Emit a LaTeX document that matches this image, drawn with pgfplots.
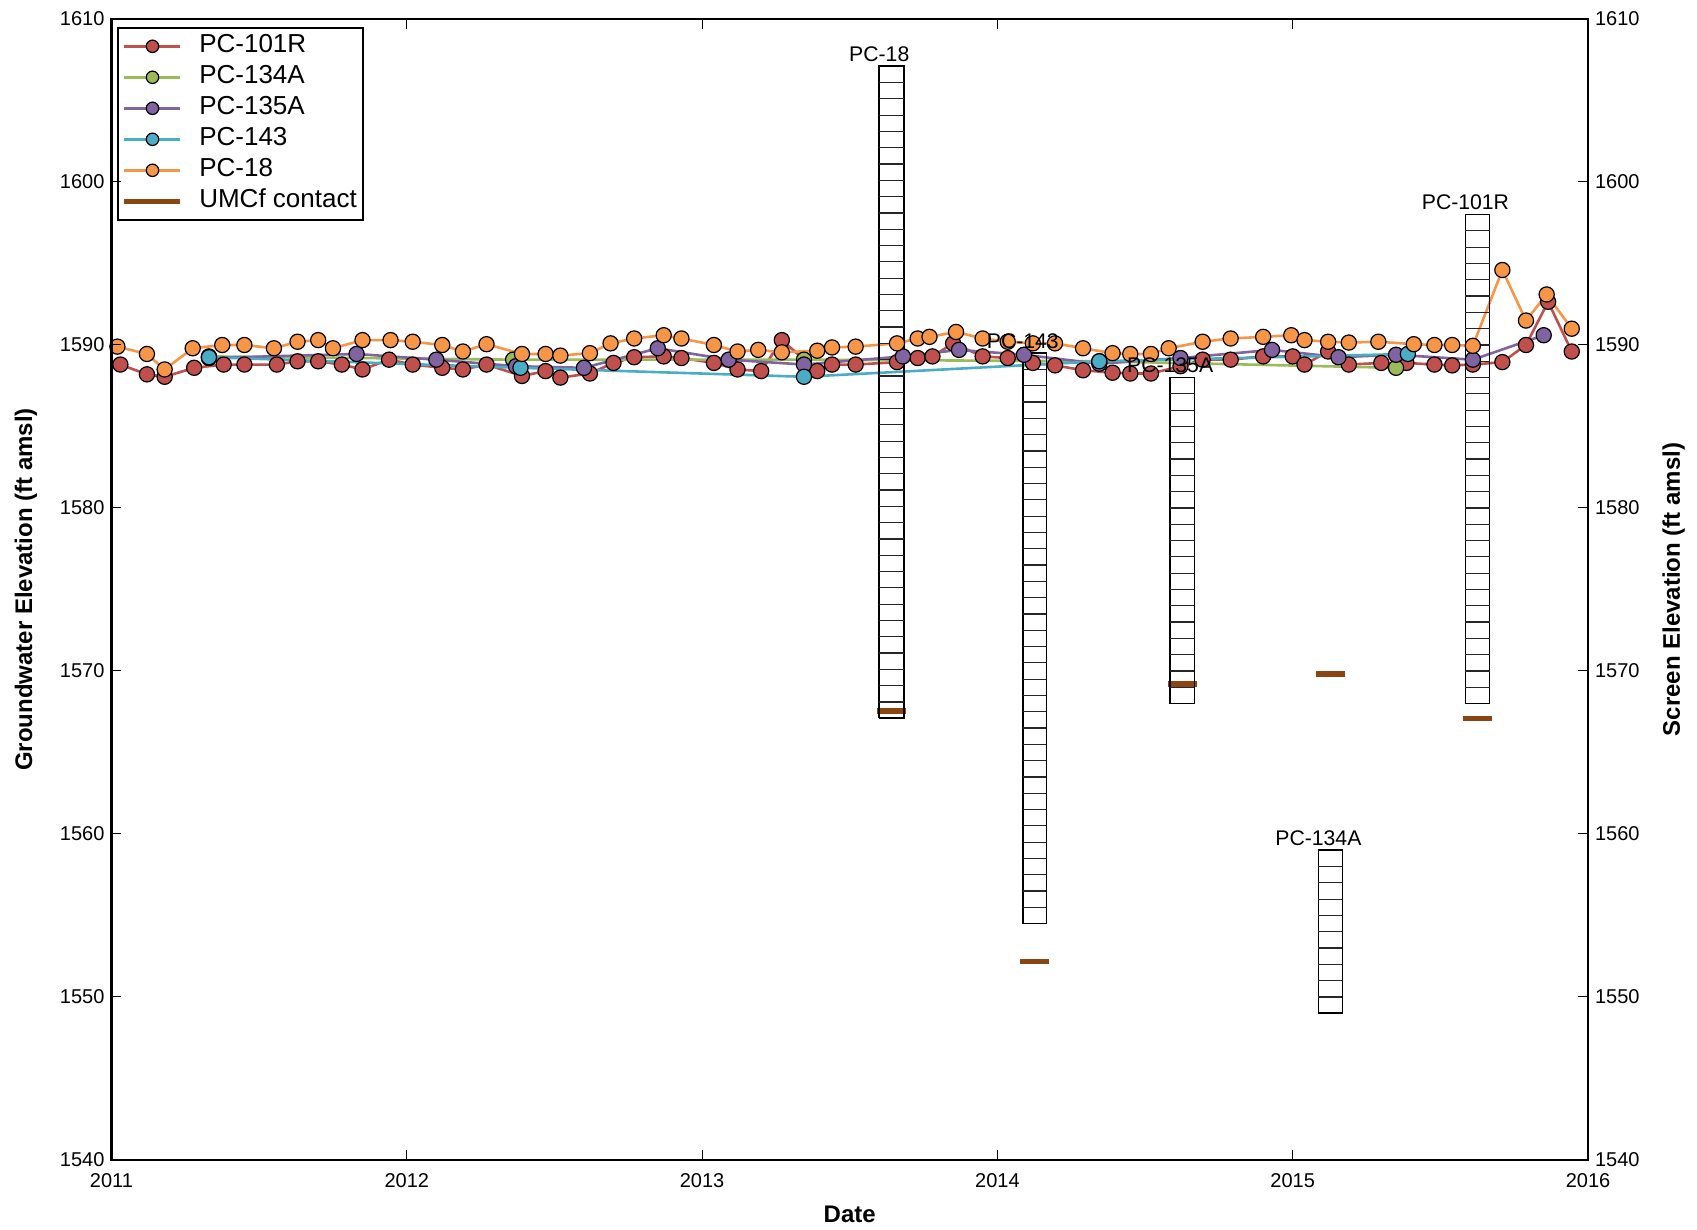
\documentclass[border=0pt]{standalone}
\usepackage{pgfplots}
\pgfplotsset{compat=1.18}
\usepackage{fontspec}
\setmainfont{Liberation Sans}

\definecolor{cRed}{HTML}{C0504D}
\definecolor{cGreen}{HTML}{9BBB59}
\definecolor{cPurple}{HTML}{8064A2}
\definecolor{cTeal}{HTML}{4BACC6}
\definecolor{cOrange}{HTML}{F79646}
\definecolor{cBrown}{HTML}{8B4513}

\pgfplotsset{
  myaxis/.style={
    at={(0,0)}, anchor=south west,
    scale only axis, width=738.25pt, height=570.5pt,
    xmin=2011, xmax=2016, ymin=1540, ymax=1610,
    ytick={1540,1550,1560,1570,1580,1590,1600,1610},
    axis line style={line width=1.4pt},
    tick style={black, line width=0.5pt},
    major tick length=5pt,
    tick label style={font=\fontsize{10}{12}\selectfont},
    /pgf/number format/assume math mode=true,
    /pgf/number format/1000 sep={},
  },
  series/.style={color=#1, line width=1.3pt, mark=*, mark size=3.8pt,
    mark options={draw=black, fill=#1, line width=0.6pt}},
}

\begin{document}
\begin{tikzpicture}
\begin{axis}[myaxis,
  xtick={2011,2012,2013,2014,2015,2016},
  xticklabel style={yshift=-3pt},
  xlabel={Date},
  ylabel={Groundwater Elevation (ft amsl)},
  every axis x label/.style={at={(axis description cs:0.5,-0.0473)}, anchor=center, font=\bfseries\fontsize{12}{14}\selectfont},
  every axis y label/.style={at={(axis description cs:-0.058,0.5)}, rotate=90, anchor=center, font=\bfseries\fontsize{12}{14}\selectfont},
  legend cell align=left,
  legend image code/.code={\draw[mark repeat=2,mark phase=2,#1,mark size=3.1pt] plot coordinates {(0pt,0pt) (14pt,0pt) (28pt,0pt)};},
  legend style={at={(axis description cs:0,1)}, anchor=north west, xshift=2.6pt, yshift=-3.9pt,
    draw=black, line width=1pt, inner sep=2pt, row sep=1pt, column sep=7pt,
    font=\fontsize{13}{15}\selectfont,
    nodes={inner sep=1pt, text height=9.5pt, text depth=3pt}},
]
% PC-101R
\addplot[series=cRed] coordinates {
(2011.03,1588.8)(2011.12,1588.2)(2011.18,1588.05)(2011.28,1588.6)(2011.38,1588.8)(2011.45,1588.8)
(2011.56,1588.8)(2011.63,1589.0)(2011.70,1589.0)(2011.78,1588.8)(2011.85,1588.5)(2011.94,1589.1)
(2012.02,1588.8)(2012.12,1588.6)(2012.19,1588.5)(2012.27,1588.8)(2012.39,1588.1)(2012.47,1588.4)
(2012.52,1588.0)(2012.62,1588.25)(2012.70,1588.9)(2012.77,1589.25)(2012.87,1589.3)(2012.93,1589.2)
(2013.04,1588.9)(2013.12,1588.5)(2013.20,1588.4)(2013.27,1590.3)(2013.39,1588.4)(2013.44,1588.8)
(2013.52,1588.8)(2013.66,1588.95)(2013.73,1589.2)(2013.78,1589.3)(2013.85,1590.1)(2013.95,1589.3)
(2014.035,1589.2)(2014.12,1588.9)(2014.195,1588.75)(2014.29,1588.45)(2014.39,1588.3)(2014.45,1588.25)
(2014.52,1588.25)(2014.62,1588.7)(2014.695,1589.1)(2014.79,1589.1)(2014.90,1589.3)(2015.0,1589.3)
(2015.04,1588.8)(2015.12,1589.6)(2015.19,1588.8)(2015.30,1588.9)(2015.385,1588.9)(2015.48,1588.8)
(2015.54,1588.75)(2015.61,1588.8)(2015.71,1588.95)(2015.79,1590.0)(2015.865,1592.65)(2015.945,1589.6)
};
\addlegendentry{PC-101R}
% PC-134A
\addplot[series=cGreen] coordinates {
(2011.33,1589.3)(2012.36,1589.1)(2013.345,1589.1)(2014.345,1589.0)(2015.35,1588.6)
};
\addlegendentry{PC-134A}
% PC-135A
\addplot[series=cPurple] coordinates {
(2011.33,1589.2)(2011.83,1589.45)(2012.10,1589.1)(2012.37,1588.7)(2012.60,1588.6)(2012.85,1589.8)
(2013.09,1589.1)(2013.345,1588.8)(2013.68,1589.3)(2013.87,1589.7)(2014.09,1589.4)(2014.345,1588.85)
(2014.62,1589.2)(2014.93,1589.7)(2015.155,1589.25)(2015.35,1589.4)(2015.61,1589.1)(2015.85,1590.6)
};
\addlegendentry{PC-135A}
% PC-143
\addplot[series=cTeal] coordinates {
(2011.33,1589.25)(2012.385,1588.6)(2013.345,1588.05)(2014.345,1589.0)(2015.39,1589.45)
};
\addlegendentry{PC-143}
% PC-18
\addplot[series=cOrange] coordinates {
(2011.02,1589.9)(2011.12,1589.45)(2011.18,1588.5)(2011.275,1589.8)(2011.375,1590.0)(2011.45,1590.0)
(2011.55,1589.8)(2011.63,1590.2)(2011.70,1590.3)(2011.75,1589.8)(2011.85,1590.3)(2011.945,1590.3)
(2012.02,1590.2)(2012.12,1590.0)(2012.19,1589.6)(2012.27,1590.05)(2012.39,1589.45)(2012.47,1589.45)
(2012.52,1589.35)(2012.62,1589.5)(2012.69,1590.1)(2012.77,1590.4)(2012.87,1590.6)(2012.93,1590.4)
(2013.04,1590.0)(2013.12,1589.6)(2013.19,1589.7)(2013.27,1589.55)(2013.39,1589.65)(2013.44,1589.85)
(2013.52,1589.9)(2013.66,1590.1)(2013.73,1590.4)(2013.77,1590.5)(2013.86,1590.8)(2013.95,1590.4)
(2014.035,1590.2)(2014.12,1590.1)(2014.195,1590.1)(2014.29,1589.8)(2014.39,1589.5)(2014.45,1589.45)
(2014.52,1589.45)(2014.58,1589.8)(2014.695,1590.2)(2014.79,1590.4)(2014.90,1590.5)(2014.995,1590.6)
(2015.04,1590.3)(2015.12,1590.2)(2015.19,1590.15)(2015.29,1590.2)(2015.41,1590.05)(2015.48,1590.0)
(2015.54,1590.0)(2015.61,1589.95)(2015.71,1594.6)(2015.79,1591.5)(2015.86,1593.1)(2015.945,1591.0)
};
\addlegendentry{PC-18}
% UMCf contacts
\addplot[cBrown, line width=2.8pt] coordinates {(2013.592,1567.56)(2013.692,1567.56)};
\addlegendentry{UMCf contact}
\addplot[cBrown, line width=2.8pt, forget plot] coordinates {(2014.078,1552.17)(2014.174,1552.17)};
\addplot[cBrown, line width=2.8pt, forget plot] coordinates {(2014.577,1569.2)(2014.675,1569.2)};
\addplot[cBrown, line width=2.8pt, forget plot] coordinates {(2015.079,1569.8)(2015.176,1569.8)};
\addplot[cBrown, line width=2.8pt, forget plot] coordinates {(2015.577,1567.08)(2015.675,1567.08)};
% screen outlines
\addplot[black, line width=0.8pt, line join=miter, forget plot] coordinates {(2013.600,1567.1)(2013.684,1567.1)(2013.684,1607.1)(2013.600,1607.1)(2013.600,1567.1)};
\addplot[black, line width=0.8pt, line join=miter, forget plot] coordinates {(2014.086,1554.5)(2014.166,1554.5)(2014.166,1589.5)(2014.086,1589.5)(2014.086,1554.5)};
\addplot[black, line width=0.8pt, line join=miter, forget plot] coordinates {(2014.585,1568.0)(2014.667,1568.0)(2014.667,1588.0)(2014.585,1588.0)(2014.585,1568.0)};
\addplot[black, line width=0.8pt, line join=miter, forget plot] coordinates {(2015.087,1549.0)(2015.168,1549.0)(2015.168,1559.0)(2015.087,1559.0)(2015.087,1549.0)};
\addplot[black, line width=0.8pt, line join=miter, forget plot] coordinates {(2015.585,1568.0)(2015.667,1568.0)(2015.667,1598.0)(2015.585,1598.0)(2015.585,1568.0)};
% screen slot lines (1 ft apart)
\foreach \xl/\xr/\bot/\m in {2013.600/2013.684/1567.1/39, 2014.086/2014.166/1554.5/34, 2014.585/2014.667/1568.0/19, 2015.087/2015.168/1549.0/9, 2015.585/2015.667/1568.0/29}{
  \foreach \k in {1,...,\m}{
    \pgfmathsetmacro\yy{\bot+\k}
    \edef\tmp{\noexpand\draw[black!85, line width=0.6pt] (axis cs:\xl,\yy) -- (axis cs:\xr,\yy);}
    \tmp
  }
}
% label anchors
\coordinate (L18) at (axis cs:2013.600,1607.1);
\coordinate (L143) at (axis cs:2014.086,1589.5);
\coordinate (L135) at (axis cs:2014.585,1588.0);
\coordinate (L134) at (axis cs:2015.087,1559.0);
\coordinate (L101) at (axis cs:2015.585,1598.0);
\end{axis}
\begin{axis}[myaxis,
  xtick=\empty,
  yticklabel pos=right,
  ylabel={Screen Elevation (ft amsl)},
  every axis y label/.style={at={(axis description cs:1.058,0.5)}, rotate=90, anchor=center, font=\bfseries\fontsize{12}{14}\selectfont},
]
\end{axis}
\begin{scope}[every node/.style={font=\fontsize{10.6}{12}\selectfont, anchor=south, inner sep=0pt, yshift=2pt}]
\node at (L18) {PC-18};
\node at (L143) {PC-143};
\node at (L135) {PC-135A};
\node at (L134) {PC-134A};
\node at (L101) {PC-101R};
\end{scope}
\pgfresetboundingbox
\path[use as bounding box] (-55.75pt,-35pt) rectangle (792.75pt,580pt);
\end{tikzpicture}
\end{document}
